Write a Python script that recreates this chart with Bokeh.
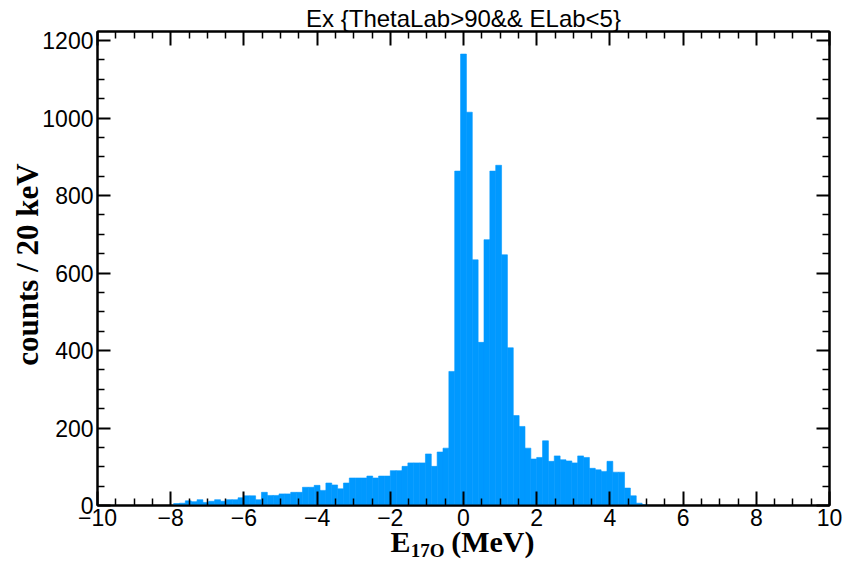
import numpy as np
from bokeh.plotting import figure
from bokeh.models import FixedTicker, LinearAxis, Range1d, ColumnDataSource
from bokeh.embed import file_html
from bokeh.resources import INLINE

# ---------------- data ----------------
title_text = "Ex {ThetaLab>90&& ELab<5}"
x_title_main = "E"
x_title_sub = "17O"
x_title_unit = "(MeV)"
y_title_text = "counts / 20 keV"

x_min, x_max = -10.0, 10.0
bin_width = 0.16
first_edge = -7.92
counts = [5, 6, 12, 10, 15, 8, 11, 15, 11, 15,
          15, 20, 25, 25, 15, 34, 26, 26, 30, 30,
          34, 34, 47, 47, 52, 39, 58, 53, 43, 58,
          71, 71, 71, 76, 71, 76, 76, 90, 90, 101,
          110, 110, 110, 133, 101, 138, 148, 346, 863, 1165,
          1015, 634, 421, 686, 863, 878, 647, 407, 232, 204,
          148, 120, 124, 167, 114, 128, 118, 115, 110, 128,
          124, 96, 92, 88, 114, 86, 86, 45, 25, 6,
          2]

x_ticks = [-10, -8, -6, -4, -2, 0, 2, 4, 6, 8, 10]
x_minor = [-9.5, -9, -8.5, -7.5, -7, -6.5, -5.5, -5, -4.5, -3.5, -3, -2.5,
           -1.5, -1, -0.5, 0.5, 1, 1.5, 2.5, 3, 3.5, 4.5, 5, 5.5, 6.5, 7, 7.5,
           8.5, 9, 9.5]
y_ticks = [0, 200, 400, 600, 800, 1000, 1200]
y_minor = [50, 100, 150, 250, 300, 350, 450, 500, 550, 650, 700, 750,
           850, 900, 950, 1050, 1100, 1150]

# horizontal anchor (in x data units) of the pieces of the x-axis title
x_title_main_at = -1.72
x_title_sub_at = -0.98
x_title_unit_at = 0.8

# ---------------- build ----------------
counts_arr = np.array(counts, dtype=float)
left = first_edge + bin_width * np.arange(len(counts))
right = left + bin_width
src = ColumnDataSource(dict(left=left, right=right, top=counts_arr,
                            bottom=np.zeros_like(counts_arr)))
y_max = 1.05 * counts_arr.max()

W, H = 845, 563
ML, MR, MT, MB = 97, 16, 31, 58

p = figure(width=W, height=H, x_range=Range1d(x_min, x_max),
           y_range=Range1d(0, y_max), output_backend="svg",
           toolbar_location=None, min_border_left=ML, min_border_right=MR,
           min_border_top=MT, min_border_bottom=MB)
p.xgrid.visible = False
p.ygrid.visible = False
p.background_fill_color = "white"
p.border_fill_color = "white"
p.outline_line_color = "black"
p.outline_line_width = 2

p.quad(left="left", right="right", top="top", bottom="bottom", source=src,
       fill_color="#0099ff", line_color="#0099ff", line_width=0.6)

sans = "Liberation Sans"
serif = "Liberation Serif"


def style_axis(ax, ticks, minor, tick_len, minor_len, show_labels):
    ax.ticker = FixedTicker(ticks=ticks, minor_ticks=minor)
    ax.axis_line_color = "black"
    ax.axis_line_width = 2
    ax.major_tick_line_color = "black"
    ax.major_tick_line_width = 2
    ax.minor_tick_line_color = "black"
    ax.minor_tick_line_width = 1.5
    ax.major_tick_in = tick_len
    ax.major_tick_out = 0
    ax.minor_tick_in = minor_len
    ax.minor_tick_out = 0
    if show_labels:
        ax.major_label_text_font = sans
        ax.major_label_text_font_size = "23px"
        ax.major_label_text_color = "black"
    else:
        ax.major_label_text_font_size = "0px"
        ax.major_label_text_alpha = 0
        ax.major_label_standoff = 0


xax = p.xaxis[0]
style_axis(xax, x_ticks, x_minor, 14, 7, True)
xax.major_label_standoff = 3
xax.major_label_overrides = {t: str(t).replace("-", "\u2212") for t in x_ticks}

yax = p.yaxis[0]
style_axis(yax, y_ticks, y_minor, 13, 7, True)
yax.major_label_standoff = 4
yax.axis_label = "\u00a0" + y_title_text
yax.axis_label_text_font = serif
yax.axis_label_text_font_style = "bold"
yax.axis_label_text_font_size = "31px"
yax.axis_label_text_color = "black"
yax.axis_label_standoff = -6

top_ax = LinearAxis()
style_axis(top_ax, x_ticks, x_minor, 14, 7, False)
p.add_layout(top_ax, "above")

right_ax = LinearAxis()
style_axis(right_ax, y_ticks, y_minor, 13, 7, False)
p.add_layout(right_ax, "right")


def text_axis(positions, texts, size, standoff):
    ax = LinearAxis(ticker=FixedTicker(ticks=positions, minor_ticks=[]))
    ax.axis_line_color = None
    ax.major_tick_line_color = None
    ax.minor_tick_line_color = None
    ax.major_tick_in = 0
    ax.major_tick_out = 0
    ax.minor_tick_in = 0
    ax.minor_tick_out = 0
    ax.major_label_overrides = dict(zip(positions, texts))
    ax.major_label_text_font = serif
    ax.major_label_text_font_style = "bold"
    ax.major_label_text_font_size = size
    ax.major_label_text_color = "black"
    ax.major_label_standoff = standoff
    p.add_layout(ax, "below")
    return ax


# x-axis title "E_{17O} (MeV)": main letters, then the lowered subscript
text_axis([x_title_main_at, x_title_unit_at], [x_title_main, x_title_unit],
          "30px", -4)
text_axis([x_title_sub_at], [x_title_sub], "19px", -21)

# main title
p.title.text = title_text
p.title.align = "center"
p.title.text_font = sans
p.title.text_font_style = "normal"
p.title.text_font_size = "24px"
p.title.text_color = "black"
p.title.standoff = 0
p.title.offset = -9

open("out.html", "w").write(file_html(p, INLINE))
